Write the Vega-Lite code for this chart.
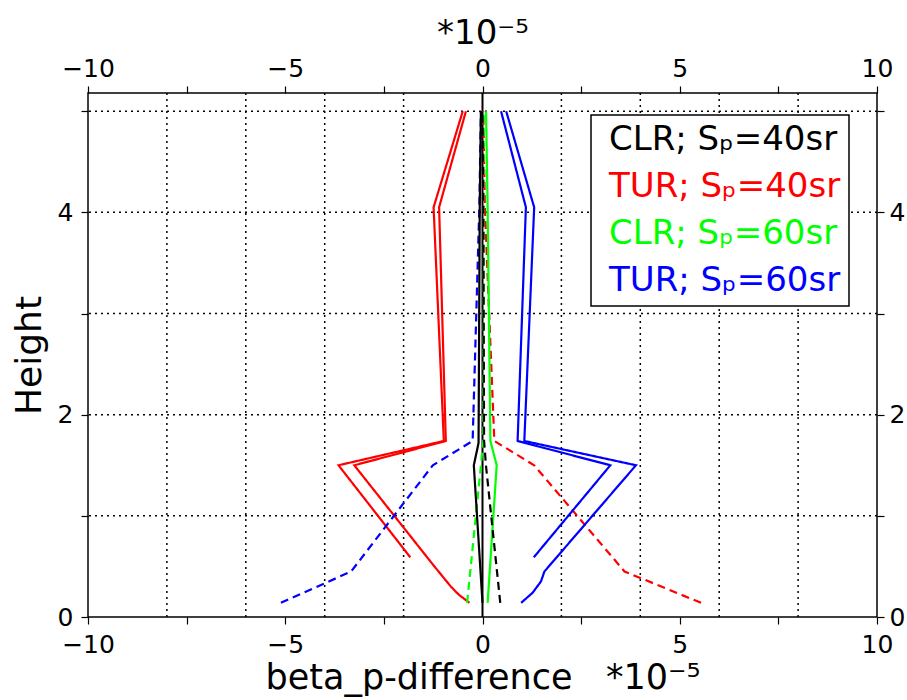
{
  "$schema": "https://vega.github.io/schema/vega-lite/v6.json",
  "width": 789,
  "height": 524,
  "autosize": "none",
  "padding": {"left": 88, "top": 93, "right": 30, "bottom": 83},
  "background": "white",
  "config": {
    "view": {"stroke": "black", "strokeWidth": 1.5},
    "font": "DejaVu Sans",
    "axis": {
      "domain": false,
      "grid": false,
      "labelColor": "black",
      "tickColor": "black",
      "tickSize": 7,
      "tickWidth": 1.2,
      "labelFontSize": 25,
      "labelFont": "DejaVu Sans",
      "titleFont": "DejaVu Sans",
      "titleFontWeight": "normal",
      "titleColor": "black",
      "labelPadding": 5,
      "labelFlush": false,
      "labelOverlap": false
    }
  },
  "datasets": {
    "lines": [
      {"id": "r1", "series": "TUR; Sₚ=40sr", "dash": "solid", "h": 0.59, "v": -1.83},
      {"id": "r1", "series": "TUR; Sₚ=40sr", "dash": "solid", "h": 1.50, "v": -3.65},
      {"id": "r1", "series": "TUR; Sₚ=40sr", "dash": "solid", "h": 1.74, "v": -0.98},
      {"id": "r1", "series": "TUR; Sₚ=40sr", "dash": "solid", "h": 4.05, "v": -1.24},
      {"id": "r1", "series": "TUR; Sₚ=40sr", "dash": "solid", "h": 5.0, "v": -0.50},
      {"id": "r2", "series": "TUR; Sₚ=40sr", "dash": "solid", "h": 0.14, "v": -0.33},
      {"id": "r2", "series": "TUR; Sₚ=40sr", "dash": "solid", "h": 0.22, "v": -0.60},
      {"id": "r2", "series": "TUR; Sₚ=40sr", "dash": "solid", "h": 0.30, "v": -0.80},
      {"id": "r2", "series": "TUR; Sₚ=40sr", "dash": "solid", "h": 0.40, "v": -1.01},
      {"id": "r2", "series": "TUR; Sₚ=40sr", "dash": "solid", "h": 0.51, "v": -1.24},
      {"id": "r2", "series": "TUR; Sₚ=40sr", "dash": "solid", "h": 1.50, "v": -3.25},
      {"id": "r2", "series": "TUR; Sₚ=40sr", "dash": "solid", "h": 1.74, "v": -0.93},
      {"id": "r2", "series": "TUR; Sₚ=40sr", "dash": "solid", "h": 4.05, "v": -1.10},
      {"id": "r2", "series": "TUR; Sₚ=40sr", "dash": "solid", "h": 5.0, "v": -0.42},
      {"id": "rd", "series": "TUR; Sₚ=40sr", "dash": "dashed", "h": 0.14, "v": 5.54},
      {"id": "rd", "series": "TUR; Sₚ=40sr", "dash": "dashed", "h": 0.45, "v": 3.60},
      {"id": "rd", "series": "TUR; Sₚ=40sr", "dash": "dashed", "h": 1.50, "v": 1.31},
      {"id": "rd", "series": "TUR; Sₚ=40sr", "dash": "dashed", "h": 1.74, "v": 0.30},
      {"id": "rd", "series": "TUR; Sₚ=40sr", "dash": "dashed", "h": 4.05, "v": 0.06},
      {"id": "rd", "series": "TUR; Sₚ=40sr", "dash": "dashed", "h": 5.0, "v": 0.02},
      {"id": "b1", "series": "TUR; Sₚ=60sr", "dash": "solid", "h": 0.14, "v": 0.98},
      {"id": "b1", "series": "TUR; Sₚ=60sr", "dash": "solid", "h": 0.24, "v": 1.27},
      {"id": "b1", "series": "TUR; Sₚ=60sr", "dash": "solid", "h": 0.35, "v": 1.48},
      {"id": "b1", "series": "TUR; Sₚ=60sr", "dash": "solid", "h": 0.45, "v": 1.57},
      {"id": "b1", "series": "TUR; Sₚ=60sr", "dash": "solid", "h": 1.50, "v": 3.89},
      {"id": "b1", "series": "TUR; Sₚ=60sr", "dash": "solid", "h": 1.74, "v": 1.06},
      {"id": "b1", "series": "TUR; Sₚ=60sr", "dash": "solid", "h": 4.05, "v": 1.31},
      {"id": "b1", "series": "TUR; Sₚ=60sr", "dash": "solid", "h": 5.0, "v": 0.60},
      {"id": "b2", "series": "TUR; Sₚ=60sr", "dash": "solid", "h": 0.59, "v": 1.30},
      {"id": "b2", "series": "TUR; Sₚ=60sr", "dash": "solid", "h": 1.50, "v": 3.24},
      {"id": "b2", "series": "TUR; Sₚ=60sr", "dash": "solid", "h": 1.74, "v": 0.89},
      {"id": "b2", "series": "TUR; Sₚ=60sr", "dash": "solid", "h": 4.05, "v": 1.10},
      {"id": "b2", "series": "TUR; Sₚ=60sr", "dash": "solid", "h": 5.0, "v": 0.47},
      {"id": "bd", "series": "TUR; Sₚ=60sr", "dash": "dashed", "h": 0.14, "v": -5.11},
      {"id": "bd", "series": "TUR; Sₚ=60sr", "dash": "dashed", "h": 0.45, "v": -3.33},
      {"id": "bd", "series": "TUR; Sₚ=60sr", "dash": "dashed", "h": 1.50, "v": -1.26},
      {"id": "bd", "series": "TUR; Sₚ=60sr", "dash": "dashed", "h": 1.74, "v": -0.25},
      {"id": "bd", "series": "TUR; Sₚ=60sr", "dash": "dashed", "h": 4.05, "v": -0.08},
      {"id": "bd", "series": "TUR; Sₚ=60sr", "dash": "dashed", "h": 5.0, "v": -0.04},
      {"id": "g1", "series": "CLR; Sₚ=60sr", "dash": "solid", "h": 0.14, "v": 0.13},
      {"id": "g1", "series": "CLR; Sₚ=60sr", "dash": "solid", "h": 1.50, "v": 0.36},
      {"id": "g1", "series": "CLR; Sₚ=60sr", "dash": "solid", "h": 1.74, "v": 0.20},
      {"id": "g1", "series": "CLR; Sₚ=60sr", "dash": "solid", "h": 4.05, "v": 0.13},
      {"id": "g1", "series": "CLR; Sₚ=60sr", "dash": "solid", "h": 5.0, "v": 0.09},
      {"id": "gd", "series": "CLR; Sₚ=60sr", "dash": "dashed", "h": 0.14, "v": -0.39},
      {"id": "gd", "series": "CLR; Sₚ=60sr", "dash": "dashed", "h": 1.50, "v": -0.04},
      {"id": "gd", "series": "CLR; Sₚ=60sr", "dash": "dashed", "h": 1.74, "v": 0.02},
      {"id": "gd", "series": "CLR; Sₚ=60sr", "dash": "dashed", "h": 4.05, "v": 0.03},
      {"id": "gd", "series": "CLR; Sₚ=60sr", "dash": "dashed", "h": 5.0, "v": 0.03},
      {"id": "k1", "series": "CLR; Sₚ=40sr", "dash": "solid", "h": 0.14, "v": 0.0},
      {"id": "k1", "series": "CLR; Sₚ=40sr", "dash": "solid", "h": 1.50, "v": -0.22},
      {"id": "k1", "series": "CLR; Sₚ=40sr", "dash": "solid", "h": 1.72, "v": -0.10},
      {"id": "k1", "series": "CLR; Sₚ=40sr", "dash": "solid", "h": 4.05, "v": -0.07},
      {"id": "k1", "series": "CLR; Sₚ=40sr", "dash": "solid", "h": 5.0, "v": -0.04},
      {"id": "kd", "series": "CLR; Sₚ=40sr", "dash": "dashed", "h": 0.14, "v": 0.45},
      {"id": "kd", "series": "CLR; Sₚ=40sr", "dash": "dashed", "h": 1.49, "v": 0.09},
      {"id": "kd", "series": "CLR; Sₚ=40sr", "dash": "dashed", "h": 1.74, "v": 0.04},
      {"id": "kd", "series": "CLR; Sₚ=40sr", "dash": "dashed", "h": 4.05, "v": 0.02},
      {"id": "kd", "series": "CLR; Sₚ=40sr", "dash": "dashed", "h": 5.0, "v": 0.0}
    ],
    "vgrid": [{"v": -8}, {"v": -6}, {"v": -4}, {"v": -2}, {"v": 2}, {"v": 4}, {"v": 6}, {"v": 8}],
    "hgrid": [{"h": 1}, {"h": 2}, {"h": 3}, {"h": 4}, {"h": 5}],
    "zero": [{"v": 0}]
  },
  "layer": [
    {
      "data": {"name": "vgrid"},
      "mark": {"type": "rule", "color": "black", "strokeWidth": 1.5, "strokeDash": [2, 4]},
      "encoding": {
        "x": {
          "field": "v", "type": "quantitative",
          "scale": {"domain": [-10, 10], "nice": false, "zero": false},
          "axis": {
            "orient": "bottom",
            "values": [-10, -7.5, -5, -2.5, 0, 2.5, 5, 7.5, 10],
            "labelExpr": "datum.value % 5 === 0 ? datum.label : ''",
            "labelPadding": 8,
            "title": "beta_p-difference\u00a0\u00a0\u00a0*10⁻⁵",
            "titleFontSize": 35,
            "titlePadding": 3
          }
        }
      }
    },
    {
      "data": {"name": "hgrid"},
      "mark": {"type": "rule", "color": "black", "strokeWidth": 1.5, "strokeDash": [2, 4]},
      "encoding": {
        "y": {
          "field": "h", "type": "quantitative",
          "scale": {"domain": [0, 5.18], "nice": false, "zero": false},
          "axis": {
            "orient": "left",
            "values": [0, 1, 2, 3, 4, 5],
            "labelExpr": "datum.value % 2 === 0 ? datum.label : ''",
            "labelPadding": 8,
            "title": "Height",
            "titleFontSize": 36,
            "titlePadding": 9
          }
        }
      }
    },
    {
      "data": {"name": "zero"},
      "mark": {"type": "rule", "color": "black", "strokeWidth": 2},
      "encoding": {
        "x": {
          "field": "v", "type": "quantitative",
          "scale": {"domain": [-10, 10], "nice": false, "zero": false},
          "axis": {
            "orient": "top",
            "values": [-10, -7.5, -5, -2.5, 0, 2.5, 5, 7.5, 10],
            "labelExpr": "datum.value % 5 === 0 ? datum.label : ''",
            "title": "*10⁻⁵",
            "titleFontSize": 34,
            "titlePadding": 6
          }
        }
      }
    },
    {
      "data": {"name": "lines"},
      "mark": {"type": "line", "strokeWidth": 2.2},
      "encoding": {
        "x": {
          "field": "v", "type": "quantitative",
          "scale": {"domain": [-10, 10], "nice": false, "zero": false},
          "axis": null
        },
        "y": {
          "field": "h", "type": "quantitative",
          "scale": {"domain": [0, 5.18], "nice": false, "zero": false},
          "axis": {
            "orient": "right",
            "values": [0, 1, 2, 3, 4, 5],
            "labelExpr": "datum.value % 2 === 0 ? datum.label : ''",
            "title": null
          }
        },
        "order": {"field": "h", "type": "quantitative"},
        "detail": {"field": "id", "type": "nominal"},
        "color": {
          "field": "series", "type": "nominal",
          "scale": {
            "domain": ["CLR; Sₚ=40sr", "TUR; Sₚ=40sr", "CLR; Sₚ=60sr", "TUR; Sₚ=60sr"],
            "range": ["#000000", "#ff0000", "#00ff00", "#0000ff"]
          },
          "legend": {
            "orient": "none",
            "legendX": 503,
            "legendY": 22,
            "title": null,
            "fillColor": "white",
            "strokeColor": "black",
            "padding": 8,
            "labelFontSize": 34,
            "labelFont": "DejaVu Sans",
            "labelLimit": 500,
            "symbolType": "circle",
            "symbolSize": 0,
            "symbolStrokeWidth": 0,
            "symbolOpacity": 0,
            "labelOffset": -24,
            "rowPadding": 13,
            "encode": {
              "labels": {"update": {"fill": {"scale": "color", "field": "value"}}},
              "legend": {"update": {"strokeWidth": {"value": 1.5}}}
            }
          }
        },
        "strokeDash": {
          "field": "dash", "type": "nominal",
          "scale": {"domain": ["solid", "dashed"], "range": [[1, 0], [8, 5]]},
          "legend": null
        }
      }
    }
  ],
  "resolve": {"axis": {"x": "independent", "y": "independent"}}
}
